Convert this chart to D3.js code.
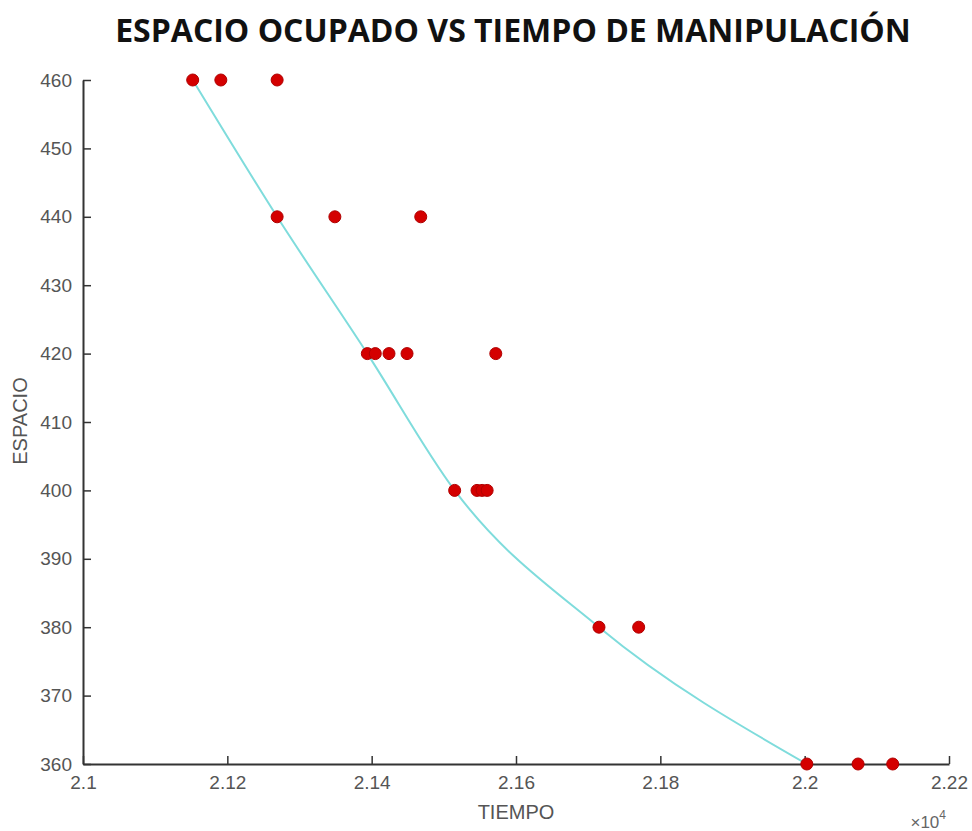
<!DOCTYPE html>
<html>
<head>
<meta charset="utf-8">
<script src="https://cdn.jsdelivr.net/npm/d3@7"></script>
<style>
  body { margin: 0; background: #fff; }
  text { font-family: "Liberation Sans", Arial, sans-serif; }
</style>
</head>
<body>
<div id="chart"></div>
<script>
// tiempo (raw units, axis shows x10^4) and espacio for each run
const tiempo = [21152, 21191, 21269,
                21269, 21349, 21468,
                21394, 21405, 21424, 21449, 21572,
                21515, 21546, 21553, 21560,
                21715, 21770,
                22003, 22074, 22122];
const espacio = [460, 460, 460,
                 440, 440, 440,
                 420, 420, 420, 420, 420,
                 400, 400, 400, 400,
                 380, 380,
                 360, 360, 360];
const xTicks = [21000, 21200, 21400, 21600, 21800, 22000, 22200];
const xTickLabels = ["2.1", "2.12", "2.14", "2.16", "2.18", "2.2", "2.22"];
const yTicks = [360, 370, 380, 390, 400, 410, 420, 430, 440, 450, 460];

var width = 972,
    height = 831;
const mLeft = 83, mRight = 949, mTop = 80, mBottom = 764;

const svg = d3.select("#chart")
  .append("svg")
    .attr("width", width)
    .attr("height", height);

const x = d3.scaleLinear().domain([21000, 22200]).range([mLeft, mRight]);
const y = d3.scaleLinear().domain([360, 460]).range([mBottom, mTop]);

const points = tiempo.map((t, i) => ({ t: t, e: espacio[i] }));

// frontier line: fastest time for each space level
const frontier = d3.rollups(points, v => d3.min(v, d => d.t), d => d.e)
  .map(([e, t]) => ({ t: t, e: e }))
  .sort((a, b) => b.e - a.e);

// title
svg.append("text")
  .attr("x", 513)
  .attr("y", 42)
  .attr("text-anchor", "middle")
  .style("font-family", "'Open Sans', sans-serif")
  .style("font-weight", "bold")
  .style("font-size", "32px")
  .attr("fill", "#111")
  .text("ESPACIO OCUPADO VS TIEMPO DE MANIPULACIÓN");

// x axis
const xAxis = d3.axisBottom(x)
  .tickValues(xTicks)
  .tickFormat((d, i) => xTickLabels[i])
  .tickSizeInner(-8)
  .tickSizeOuter(0)
  .tickPadding(12);
const gx = svg.append("g")
  .attr("transform", `translate(0,${mBottom})`)
  .call(xAxis);

// y axis
const yAxis = d3.axisLeft(y)
  .tickValues(yTicks)
  .tickSizeInner(-8)
  .tickSizeOuter(0)
  .tickPadding(11);
const gy = svg.append("g")
  .attr("transform", `translate(${mLeft},0)`)
  .call(yAxis);

[gx, gy].forEach(g => {
  g.select(".domain").attr("stroke", "#333").attr("stroke-width", 2);
  g.selectAll(".tick line").attr("stroke", "#333").attr("stroke-width", 1.5);
  g.selectAll(".tick text")
    .attr("fill", "#555")
    .style("font-size", "19px")
    .style("font-family", "'Liberation Sans', Arial, sans-serif");
});

// line
const line = d3.line()
  .x(d => x(d.t))
  .y(d => y(d.e))
  .curve(d3.curveMonotoneX);

svg.append("path")
  .datum(frontier)
  .attr("d", line)
  .attr("fill", "none")
  .attr("stroke", "#7fdcdc")
  .attr("stroke-width", 2);

// points
svg.append("g")
  .selectAll("circle")
  .data(points)
  .join("circle")
    .attr("cx", d => x(d.t))
    .attr("cy", d => y(d.e))
    .attr("r", 6)
    .attr("fill", "#d40000")
    .attr("stroke", "#b00000")
    .attr("stroke-width", 1);

// axis labels
svg.append("text")
  .attr("x", 516)
  .attr("y", 819)
  .attr("text-anchor", "middle")
  .attr("fill", "#555")
  .style("font-size", "20px")
  .text("TIEMPO");

svg.append("text")
  .attr("transform", "translate(27,421) rotate(-90)")
  .attr("text-anchor", "middle")
  .attr("fill", "#555")
  .style("font-size", "20px")
  .text("ESPACIO");

const exp = svg.append("text")
  .attr("x", 946)
  .attr("y", 828)
  .attr("text-anchor", "end")
  .attr("fill", "#666")
  .style("font-size", "17px");
exp.append("tspan").text("×10");
exp.append("tspan")
  .attr("dy", -9)
  .style("font-size", "12px")
  .text("4");
</script>
</body>
</html>
